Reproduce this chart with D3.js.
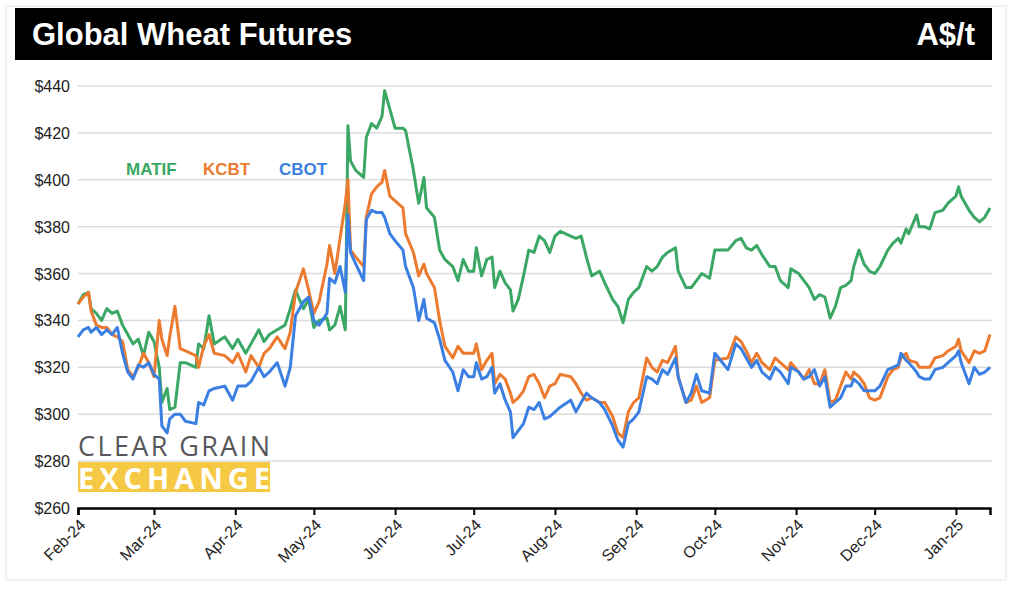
<!DOCTYPE html>
<html>
<head>
<meta charset="utf-8">
<script src="https://cdn.jsdelivr.net/npm/d3@7"></script>
<style>
body { margin: 0; background: #fff; font-family: "Liberation Sans", Arial, sans-serif; }
</style>
</head>
<body>
<svg class="chart" width="1014" height="589"></svg>
<script>
// day offset from 1 Feb 2024, MATIF, KCBT, CBOT (A$/t)
var rows = [
[0,347,347,333],[2,351,350,336],[4,352,352,337],[5,345,344,335],[7,343,338,337],[9,340,337,334],
[11,345,337,336],[13,343,334,334],[15,344,333,337],[17,338,331,326],[19,334,319,318],[21,330,316,315],
[23,332,320,321],[25,325,326,320],[27,335,322,322],[29,331,316,317],[31,320,340,315],[32,305,332,295],
[34,311,325,292],[35,302,333,298],[37,303,346,300],[39,322,328,300],[41,322,327,297],[45,320,325,296],
[46,330,320,305],[48,328,329,304],[50,342,334,310],[52,330,326,311],[56,333,325,312],[59,328,322,306],
[61,332,326,312],[64,326,318,312],[66,330,325,314],[69,336,320,320],[71,331,326,316],[73,334,328,318],
[76,336,333,322],[79,338,328,312],[81,345,335,320],[83,353,352,342],[86,345,362,348],[88,349,353,350],
[90,337,343,340],[92,340,348,338],[95,341,364,343],[96,336,372,358],[98,338,360,356],[100,346,375,363],
[102,336,390,352],[103,423,400,385],[104,408,370,369],[106,404,367,364],[109,401,363,357],[110,418,384,383],
[112,424,394,387],[114,422,397,386],[116,427,399,386],[117,438,404,384],[119,430,393,377],[121,422,391,374],
[124,422,388,370],[125,421,377,363],[128,404,369,354],[130,390,359,340],[132,401,364,349],[133,388,360,341],
[136,384,354,339],[138,370,340,332],[140,366,329,323],[143,363,324,318],[145,357,329,310],[147,366,326,319],
[149,361,326,316],[151,361,326,316],[152,371,330,322],[154,359,319,315],[156,366,323,316],[158,367,326,320],
[159,354,313,309],[161,361,317,313],[163,356,315,306],[165,353,309,301],[166,344,305,290],[168,349,307,293],
[170,359,310,296],[172,370,316,303],[174,369,317,302],[176,376,313,305],[178,374,307,298],[180,369,312,299],
[182,376,313,301],[184,378,317,303],[188,376,316,306],[190,375,313,301],[192,376,309,305],[194,367,306,309],
[196,359,307,307],[199,361,305,305],[201,356,305,302],[204,349,299,295],[206,346,292,289],[208,339,290,286],
[210,349,301,296],[212,352,305,298],[214,354,307,301],[217,363,324,316],[219,361,320,315],[221,363,318,313],
[223,367,323,319],[225,369,322,317],[228,371,329,324],[229,361,316,316],[232,354,305,305],[234,354,306,309],
[236,357,312,317],[238,360,305,310],[241,358,307,309],[243,370,323,326],[248,370,324,319],[251,374,333,330],
[253,375,331,328],[255,371,327,324],[257,370,322,320],[259,372,326,323],[261,368,322,318],[264,363,319,315],
[266,363,324,320],[268,357,322,318],[271,354,319,313],[272,362,322,320],[275,360,318,318],[277,357,315,315],
[279,354,319,316],[281,349,313,319],[283,351,313,312],[285,350,319,316],[287,341,305,303],[289,346,306,305],
[291,354,312,307],[293,355,318,312],[295,357,315,312],[296,363,318,315],[298,370,316,313],[300,364,313,310],
[302,361,307,310],[304,360,306,310],[306,363,307,312],[309,370,316,319],[311,373,319,320],[313,375,320,321],
[314,373,324,326],[316,379,326,323],[317,377,323,322],[320,385,322,318],[321,380,320,316],[323,380,320,315],
[325,379,320,315],[327,386,324,319],[330,387,325,320],[332,390,327,322],[335,393,329,325],[336,397,332,327],
[337,393,327,322],[340,387,322,313],[342,384,327,320],[344,382,326,317],[346,384,327,318],[348,388,334,320]
];

var start = new Date(2024, 1, 1);
var series = [
	{name: "MATIF", col: 1, color: "#3aa765", lx: 126},
	{name: "KCBT", col: 2, color: "#ec7a2f", lx: 203},
	{name: "CBOT", col: 3, color: "#3b7fe3", lx: 279}
];

var svg = d3.select(".chart");

svg.append("rect").attr("x", 6).attr("y", 6).attr("width", 1000).attr("height", 574)
	.attr("fill", "none").attr("stroke", "#e4e4e4");

// title bar
svg.append("rect").attr("x", 15).attr("y", 8).attr("width", 977).attr("height", 52).attr("fill", "#000");
svg.append("text").attr("x", 32).attr("y", 45).attr("fill", "#fff")
	.style("font-size", "31px").style("font-weight", "bold").text("Global Wheat Futures");
svg.append("text").attr("x", 975).attr("y", 45).attr("fill", "#fff").attr("text-anchor", "end")
	.style("font-size", "31px").style("font-weight", "bold").text("A$/t");

var x = d3.scaleTime()
	.domain([start, d3.timeDay.offset(start, 348)])
	.range([78, 990]);
var y = d3.scaleLinear().domain([260, 440]).range([508, 86]);

// grid
svg.append("g").selectAll("line").data(d3.range(280, 441, 20)).enter().append("line")
	.attr("x1", 78).attr("x2", 992)
	.attr("y1", function(d) { return y(d); }).attr("y2", function(d) { return y(d); })
	.attr("stroke", "#dcdcdc").attr("stroke-width", 1.5);

svg.append("g").selectAll("text").data(d3.range(260, 441, 20)).enter().append("text")
	.attr("x", 70).attr("y", function(d) { return y(d) + 6; })
	.attr("text-anchor", "end").style("font-size", "16px").attr("fill", "#222")
	.text(function(d) { return "$" + d; });

// logo
svg.append("text").attr("x", 78).attr("y", 456).attr("fill", "#58585a")
	.style("font-family", "'Open Sans', sans-serif").style("font-size", "27px")
	.attr("textLength", 192).text("CLEAR GRAIN");
svg.append("rect").attr("x", 78).attr("y", 462).attr("width", 192).attr("height", 30).attr("fill", "#f6c945");
svg.append("text").attr("x", 78).attr("y", 489).attr("fill", "#fff")
	.style("font-family", "'Open Sans', sans-serif").style("font-size", "29px").style("font-weight", "bold")
	.attr("textLength", 192).text("EXCHANGE");

// x axis
var months = d3.timeMonth.range(start, new Date(2025, 0, 2));
var xAxis = svg.append("g").attr("transform", "translate(0,508)")
	.call(d3.axisBottom(x).tickValues(months).tickSize(7).tickFormat(d3.timeFormat("%b-%y")));
xAxis.select(".domain").attr("stroke", "#000").attr("stroke-width", 2.5);
xAxis.selectAll(".tick line").attr("stroke", "#000").attr("stroke-width", 2);
xAxis.selectAll("text").style("font-size", "16px").style("font-family", "'Liberation Sans', Arial")
	.attr("fill", "#222").attr("text-anchor", "end")
	.attr("transform", "translate(4,14) rotate(-45)").attr("dy", "0.35em").attr("y", 0).attr("x", 0);

// lines
series.forEach(function(s) {
	var line = d3.line()
		.x(function(r) { return x(d3.timeDay.offset(start, r[0])); })
		.y(function(r) { return y(r[s.col]); });
	svg.append("path").datum(rows).attr("d", line)
		.attr("fill", "none").attr("stroke", s.color).attr("stroke-width", 3).attr("stroke-linejoin", "round");
	svg.append("text").attr("x", s.lx).attr("y", 175).attr("fill", s.color)
		.style("font-size", "17px").style("font-weight", "bold").text(s.name);
});
</script>
</body>
</html>
